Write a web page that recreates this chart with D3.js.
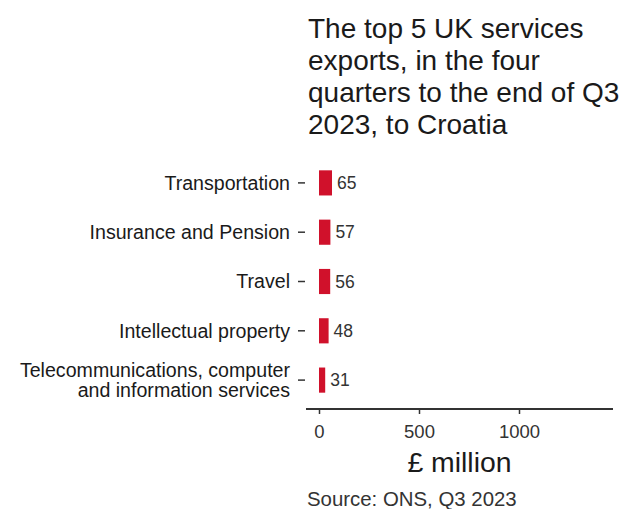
<!DOCTYPE html>
<html><head><meta charset="utf-8">
<script src="https://cdn.jsdelivr.net/npm/d3@7"></script>
<style>body{margin:0;background:#fff;} svg{display:block;} text{font-family:"Liberation Sans",Arial,sans-serif;}</style>
</head><body><svg id="c" width="635" height="509"></svg>
<script>
const categories = ["Transportation","Insurance and Pension","Travel","Intellectual property","Telecommunications, computer\nand information services"];
const values = [65,57,56,48,31];
const xTicks = [0,500,1000];
const titleLines = ["The top 5 UK services","exports, in the four","quarters to the end of Q3","2023, to Croatia"];
const xLabel = "£ million";
const source = "Source: ONS, Q3 2023";

const svg = d3.select("#c");
const x = d3.scaleLinear().domain([-65,1470]).range([306,613]);
const y = d3.scaleBand().domain(categories).range([158,405]).paddingInner(0.49).paddingOuter(0.25);

// title
svg.append("text").attr("x",308).attr("y",38).attr("font-size",28).attr("fill","#1a1a1a")
  .selectAll("tspan").data(titleLines).join("tspan").attr("x",308).attr("dy",(d,i)=>i?32:0).text(d=>d);

// bars
svg.selectAll("rect.bar").data(values).join("rect").attr("class","bar")
  .attr("x",x(0)).attr("y",(d,i)=>y(categories[i]))
  .attr("width",d=>x(d)-x(0)).attr("height",y.bandwidth()).attr("fill","#d0112b");

svg.selectAll("text.val").data(values).join("text").attr("class","val")
  .attr("x",d=>x(d)+5).attr("y",(d,i)=>y(categories[i])+y.bandwidth()/2).attr("dy","0.35em")
  .attr("font-size",17.5).attr("fill","#333").text(d=>d);

// y axis
const yAxis = d3.axisLeft(y).tickSize(7).tickPadding(5).tickFormat("");
const yg = svg.append("g").attr("transform","translate(305,0)").call(yAxis);
yg.select(".domain").remove();
yg.selectAll(".tick line").attr("stroke","#333").attr("stroke-width",1.5);
categories.forEach((c,i)=>{
  const lines = c.split("\n");
  const cy = y(c)+y.bandwidth()/2;
  const t = svg.append("text").attr("text-anchor","end").attr("font-size",19.6).attr("fill","#1a1a1a");
  lines.forEach((l,j)=>{
    t.append("tspan").attr("x",290).attr("y",cy + (j-(lines.length-1)/2)*20).attr("dy","0.35em").text(l);
  });
});

// x axis
const xAxis = d3.axisBottom(x).tickValues(xTicks).tickSize(5).tickPadding(11).tickFormat(d3.format("d"));
const xg = svg.append("g").attr("transform","translate(0,409)").call(xAxis);
xg.select(".domain").attr("stroke","#333").attr("stroke-width",2).attr("d",`M${x.range()[0]},0H${x.range()[1]}`);
xg.selectAll(".tick line").attr("stroke","#333").attr("stroke-width",1.5);
xg.selectAll(".tick text").attr("font-size",18.5).attr("fill","#333").attr("font-family","Liberation Sans, Arial, sans-serif");

svg.append("text").attr("x",459.5).attr("y",472).attr("text-anchor","middle").attr("font-size",28.4).attr("fill","#1a1a1a").text(xLabel);
svg.append("text").attr("x",307).attr("y",506).attr("font-size",20.4).attr("fill","#333").text(source);
</script></body></html>
